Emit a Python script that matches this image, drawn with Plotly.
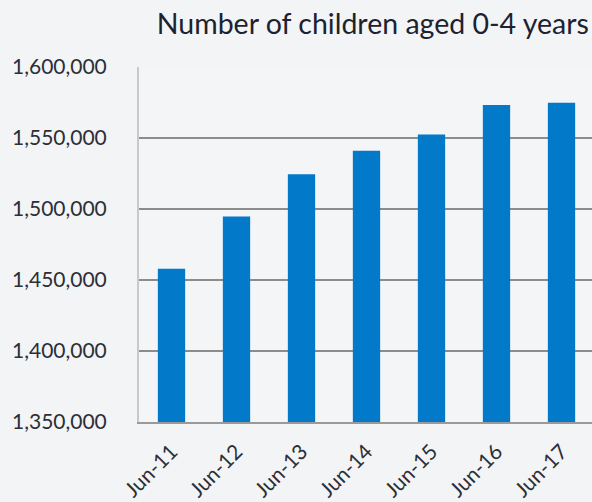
import plotly.graph_objects as go

categories = ["Jun-11", "Jun-12", "Jun-13", "Jun-14", "Jun-15", "Jun-16", "Jun-17"]
children = [1458000, 1494800, 1524400, 1541100, 1552400, 1573300, 1574900]
y_ticks = [1350000, 1400000, 1450000, 1500000, 1550000, 1600000]
y_tick_labels = ["1,350,000", "1,400,000", "1,450,000", "1,500,000", "1,550,000", "1,600,000"]
title_text = "Number of children aged 0-4 years"

fig = go.Figure()
fig.add_trace(go.Bar(
    x=categories, y=children,
    marker=dict(color="#0279c9", line=dict(width=0)),
))

fig.update_layout(
    width=592, height=502,
    margin=dict(l=139, r=0, t=67, b=80),
    paper_bgcolor="#f3f4f6",
    plot_bgcolor="#f4f5f7",
    bargap=0.58,
    showlegend=False,
    font=dict(family="Lato", color="#2b2f36"),
    title=dict(text=title_text, x=0.993, xanchor="right", xref="paper",
               y=0.952, yanchor="middle", yref="container",
               font=dict(size=28.5, color="#1c2230", family="Lato")),
)
fig.update_xaxes(
    range=[-0.5, 6.5 - 2/65],
    tickangle=-45, tickfont=dict(size=21, color="#2b2f36"),
    showline=True, linecolor="#9a9a9a", linewidth=2,
    showgrid=False, ticks="", ticklabelstandoff=7,
)
fig.update_yaxes(
    range=[1350000, 1600000],
    tickvals=y_ticks, ticktext=y_tick_labels,
    tickfont=dict(size=21, color="#2b2f36"),
    showgrid=True, gridcolor="#8c8c8c", gridwidth=2,
    showline=True, linecolor="#c9c9c9", linewidth=2,
    zeroline=False, ticks="", ticklabelstandoff=26,
)
fig.write_html("out.html")
